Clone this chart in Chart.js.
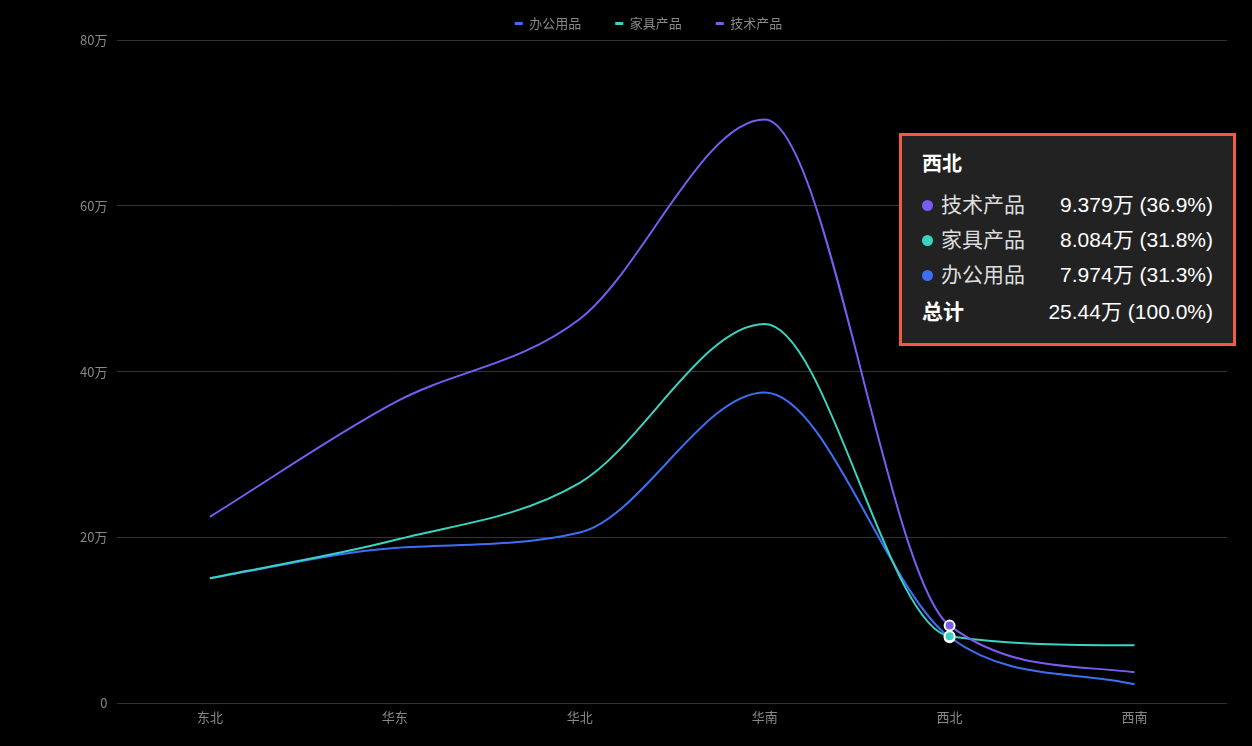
<!DOCTYPE html>
<html>
<head>
<meta charset="utf-8">
<script src="https://cdn.jsdelivr.net/npm/chart.js@4/dist/chart.umd.min.js"></script>
<style>
  html, body { margin: 0; padding: 0; background: #000; }
  #wrap { position: relative; width: 1252px; height: 746px; }
  #tip {
    position: absolute; left: 899px; top: 133px; width: 331px; height: 207px;
    background: #222; border: 3px solid #f25a47; box-sizing: content-box;
    font-family: "Liberation Sans", "Noto Sans CJK SC", sans-serif; color: #fff;
    display: none;
  }
  #tip .title { position: absolute; left: 20px; top: 12px; font-size: 20px; font-weight: bold; font-family: "Noto Sans CJK SC", sans-serif; }
  #tip .row { position: absolute; left: 20px; right: 20px; height: 26px; font-size: 21px; line-height: 26px; }
  #tip .dot { position: absolute; left: 0; top: 8px; width: 11px; height: 11px; border-radius: 50%; }
  #tip .lab { position: absolute; left: 19px; color: #ddd; font-family: "Noto Sans CJK SC", sans-serif; top: -2px; }
  #tip .val { position: absolute; right: 0; color: #fff; }
  #tip .total .lab { left: 0; color: #fff; font-weight: bold; }
</style>
</head>
<body>
<div id="wrap">
  <canvas id="chart" width="1252" height="746"></canvas>
  <div id="tip"></div>
</div>
<script>
const regions = ["东北", "华东", "华北", "华南", "西北", "西南"];
const office = [151000, 187500, 206000, 375000, 79740, 23000];
const furniture = [151000, 197000, 266000, 457500, 80840, 70000];
const tech = [225000, 363000, 463500, 704000, 93790, 37500];
const yTicks = [0, 200000, 400000, 600000, 800000];

const colors = ['#3d6ff6', '#3ad3bf', '#7b5cf2'];
const names = ["办公用品", "家具产品", "技术产品"];

const fmtWan = v => v === 0 ? '0' : (v / 10000) + '万';

const tipEl = document.getElementById('tip');

function externalTip(ctx) {
  const t = ctx.tooltip;
  if (!t.dataPoints || t.dataPoints.length === 0) { tipEl.style.display = 'none'; return; }
  const pts = t.dataPoints.slice().sort((a, b) => b.datasetIndex - a.datasetIndex);
  const total = pts.reduce((s, p) => s + p.raw, 0);
  let html = `<div class="title">${pts[0].label}</div>`;
  pts.forEach((p, i) => {
    const pct = (p.raw / total * 100).toFixed(1);
    html += `<div class="row" style="top:${56 + i * 35}px">
      <span class="dot" style="background:${colors[p.datasetIndex]}"></span>
      <span class="lab">${p.dataset.label}</span>
      <span class="val">${(p.raw / 10000).toPrecision(4)}万 (${pct}%)</span></div>`;
  });
  html += `<div class="row total" style="top:${56 + pts.length * 35 + 2}px">
    <span class="lab">总计</span>
    <span class="val">${(total / 10000).toPrecision(4)}万 (100.0%)</span></div>`;
  tipEl.innerHTML = html;
  tipEl.style.display = 'block';
}

const chart = new Chart(document.getElementById('chart'), {
  type: 'line',
  data: {
    labels: regions,
    datasets: [office, furniture, tech].map((d, i) => ({
      label: names[i],
      data: d,
      order: 2 - i,
      borderColor: colors[i],
      backgroundColor: colors[i],
      borderWidth: 2,
      cubicInterpolationMode: 'monotone',
      pointRadius: 0,
      pointHoverRadius: 5,
      pointHoverBorderWidth: 2,
      pointHoverBorderColor: '#fff',
      pointHoverBackgroundColor: colors[i]
    }))
  },
  options: {
    responsive: false,
    animation: false,
    layout: { padding: { left: 70, right: 25, top: -17, bottom: 15 } },
    interaction: { mode: 'index', intersect: false },
    scales: {
      x: {
        offset: true,
        grid: { display: false, drawTicks: false },
        border: { display: false },
        ticks: { color: '#888', font: { size: 13, family: '"Noto Sans CJK SC"' }, padding: 6 }
      },
      y: {
        min: 0, max: 800000,
        afterBuildTicks: axis => { axis.ticks = yTicks.map(v => ({ value: v })); },
        grid: { color: '#333', lineWidth: 1, drawTicks: false },
        border: { display: false },
        ticks: { color: '#888', font: { size: 13, family: '"Noto Sans CJK SC"' }, padding: 10, callback: v => fmtWan(v) }
      }
    },
    plugins: {
      legend: {
        position: 'top',
        labels: {
          color: '#888',
          font: { size: 13, family: '"Noto Sans CJK SC"' },
          boxWidth: 8,
          boxHeight: 3,
          padding: 34,
          generateLabels: ch => ch.data.datasets.map((ds, i) => ({
            text: ds.label, fillStyle: ds.borderColor, strokeStyle: ds.borderColor,
            lineWidth: 0, datasetIndex: i, fontColor: '#888', hidden: false
          }))
        }
      },
      tooltip: { enabled: false, external: externalTip }
    }
  }
});

const active = [0, 1, 2].map(i => ({ datasetIndex: i, index: 4 }));
chart.setActiveElements(active);
chart.tooltip.setActiveElements(active, { x: 950, y: 630 });
chart.update();
</script>
</body>
</html>
